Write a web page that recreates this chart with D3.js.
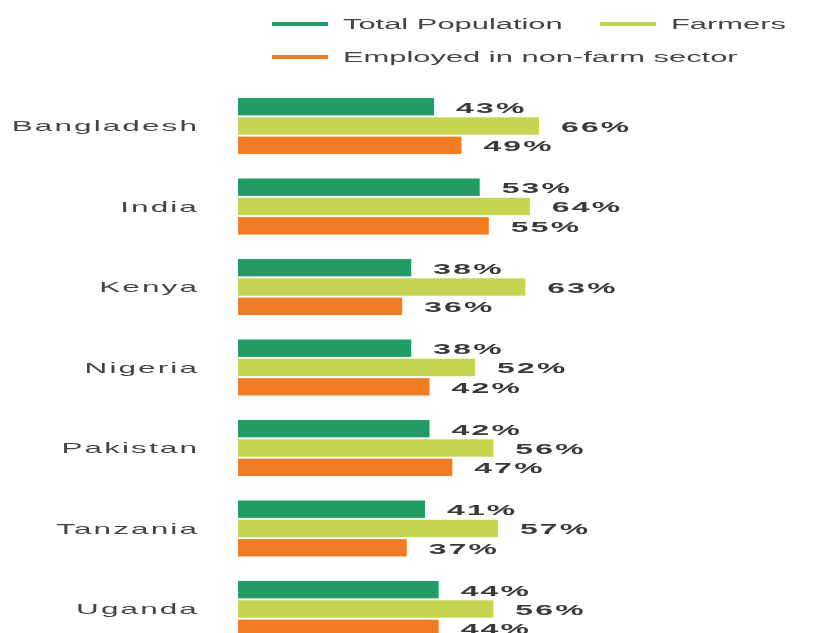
<!DOCTYPE html>
<html>
<head>
<meta charset="utf-8">
<script src="https://cdn.jsdelivr.net/npm/d3@7"></script>
<style>
  html, body { margin: 0; padding: 0; background: #fff; }
  svg { display: block; filter: blur(0.45px); }
</style>
</head>
<body>
<svg id="chart" width="835" height="633"></svg>
<script>
// Share of each group, in percent
const countries = ["Bangladesh", "India", "Kenya", "Nigeria", "Pakistan", "Tanzania", "Uganda"];
const seriesNames = ["Total Population", "Farmers", "Employed in non-farm sector"];
const totalPopulation = [43, 53, 38, 38, 42, 41, 44];
const farmers = [66, 64, 63, 52, 56, 57, 56];
const nonFarm = [49, 55, 36, 42, 47, 37, 44];
const seriesColors = ["#239b65", "#c5d551", "#f07d24"];

const seriesValues = [totalPopulation, farmers, nonFarm];
const rows = countries.map((c, i) => ({
  country: c,
  values: seriesNames.map((s, j) => ({ series: s, idx: j, value: seriesValues[j][i] }))
}));

const svg = d3.select("#chart");
const FONT = "'Liberation Sans', Arial, sans-serif";

// Text drawn with a wide horizontal stretch
function wideText(parent, x, y, str, opts) {
  const g = parent.append("g").attr("transform", `translate(${x},${y})`);
  g.append("text")
    .attr("transform", `scale(${opts.sx},1)`)
    .attr("text-anchor", opts.anchor || "start")
    .attr("dominant-baseline", "central")
    .attr("font-family", FONT)
    .attr("font-size", opts.size)
    .attr("font-weight", opts.weight || "normal")
    .attr("letter-spacing", opts.ls || 0)
    .attr("fill", opts.fill)
    .text(str);
  return g;
}

const x = d3.scaleLinear().domain([0, 100]).range([238, 694]);
const y = d3.scaleBand().domain(countries).range([98, 637]).paddingInner(0.304).paddingOuter(0);
const ySub = d3.scaleBand().domain(d3.range(3)).range([0, y.bandwidth()]).paddingInner(0.1);

// Legend
const legendItems = [
  { name: seriesNames[0], color: seriesColors[0], lx: 272, ly: 24 },
  { name: seriesNames[1], color: seriesColors[1], lx: 600, ly: 24 },
  { name: seriesNames[2], color: seriesColors[2], lx: 272, ly: 57 }
];
const legend = svg.append("g").attr("class", "legend");
legendItems.forEach(d => {
  legend.append("line")
    .attr("x1", d.lx).attr("x2", d.lx + 56)
    .attr("y1", d.ly).attr("y2", d.ly)
    .attr("stroke", d.color).attr("stroke-width", 4);
  wideText(legend, d.lx + 71, d.ly, d.name, { sx: 2.06, size: 15, fill: "#444", ls: 0 });
});

// Bar groups
const groups = svg.append("g").selectAll("g.country")
  .data(rows).join("g")
  .attr("class", "country")
  .attr("transform", d => `translate(0,${y(d.country)})`);

groups.selectAll("rect")
  .data(d => d.values).join("rect")
  .attr("x", x(0))
  .attr("y", d => ySub(d.idx))
  .attr("width", d => x(d.value) - x(0))
  .attr("height", ySub.bandwidth())
  .attr("fill", d => seriesColors[d.idx]);

groups.each(function(d) {
  const g = d3.select(this);
  wideText(g, 199, y.bandwidth() / 2, d.country, { sx: 2.1, size: 15, fill: "#444", ls: 1, anchor: "end" });
  d.values.forEach(v => {
    wideText(g, x(v.value) + 22, ySub(v.idx) + ySub.bandwidth() / 2 + 1, v.value + "%",
      { sx: 2.2, size: 14.5, weight: "bold", fill: "#3a3a3a", ls: 1 });
  });
});
</script>
</body>
</html>
